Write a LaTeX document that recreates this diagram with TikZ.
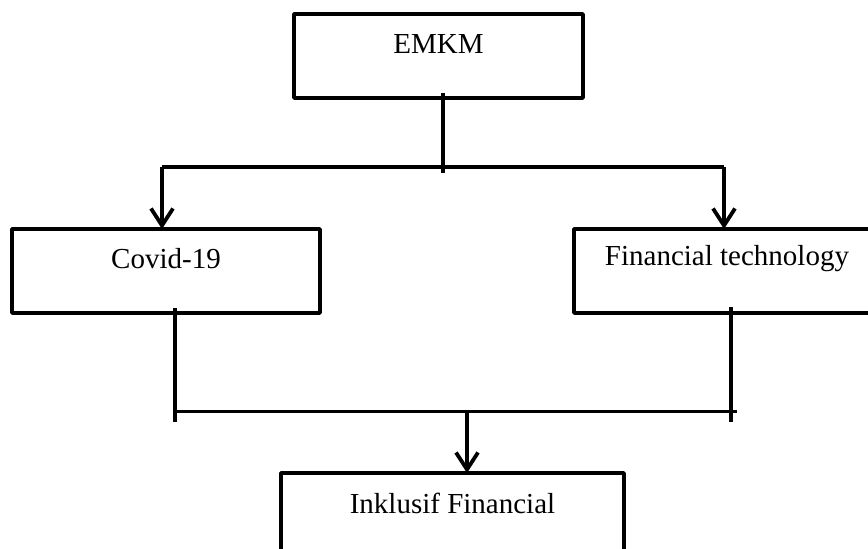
\documentclass[tikz,border=0pt]{standalone}
\usepackage{fontspec}
\setmainfont{Liberation Serif}
\usetikzlibrary{arrows.meta}
\tikzset{
  box/.style={draw, rectangle, inner sep=0pt, outer sep=0pt, minimum height=84pt, line join=round},
  boxtext/.style={font=\fontsize{29}{34}\selectfont},
  arr/.style={-{Straight Barb[length=17pt,width=22pt]}},
}
\begin{document}
\begin{tikzpicture}[x=1pt,y=1pt,line width=3.8pt]
\useasboundingbox (0,0) rectangle (868,549);
\clip (0,0) rectangle (868,549);
\fill[white] (0,0) rectangle (868,549);
\node[box, minimum width=289pt, label={[boxtext,anchor=center,yshift=-30pt]north:EMKM}] (emkm) at (438.5,493) {};
\node[box, minimum width=308pt, label={[boxtext,anchor=center,yshift=-30pt]north:Covid-19}] (covid) at (166,278) {};
\node[box, minimum width=306pt, label={[boxtext,anchor=center,yshift=-30pt]north:Financial technology}] (fin) at (727,278) {};
\node[box, minimum width=343pt, label={[boxtext,anchor=center,yshift=-30pt]north:Inklusif Financial}] (inkl) at (452.5,34) {};
% top distribution
\coordinate (jl) at (162,382);
\coordinate (jr) at (724,382);
\draw ([xshift=4.5pt,yshift=5pt]emkm.south) -- ++(0,-80);
\draw (jl) -- (jr);
\draw[arr] (jl) -- (jl |- covid.north);
\draw[arr] (jr) -- (jr |- fin.north);
% bottom collection
\coordinate (bl) at (175,137.5);
\coordinate (br) at (737,137.5);
\coordinate (bm) at (467,137.5);
\draw ([xshift=9pt,yshift=5pt]covid.south) -- ++(0,-114);
\draw ([xshift=4pt,yshift=6pt]fin.south) -- ++(0,-115);
\draw (bl) -- (br);
\draw[arr] (bm) -- (bm |- inkl.north);
\end{tikzpicture}
\end{document}
